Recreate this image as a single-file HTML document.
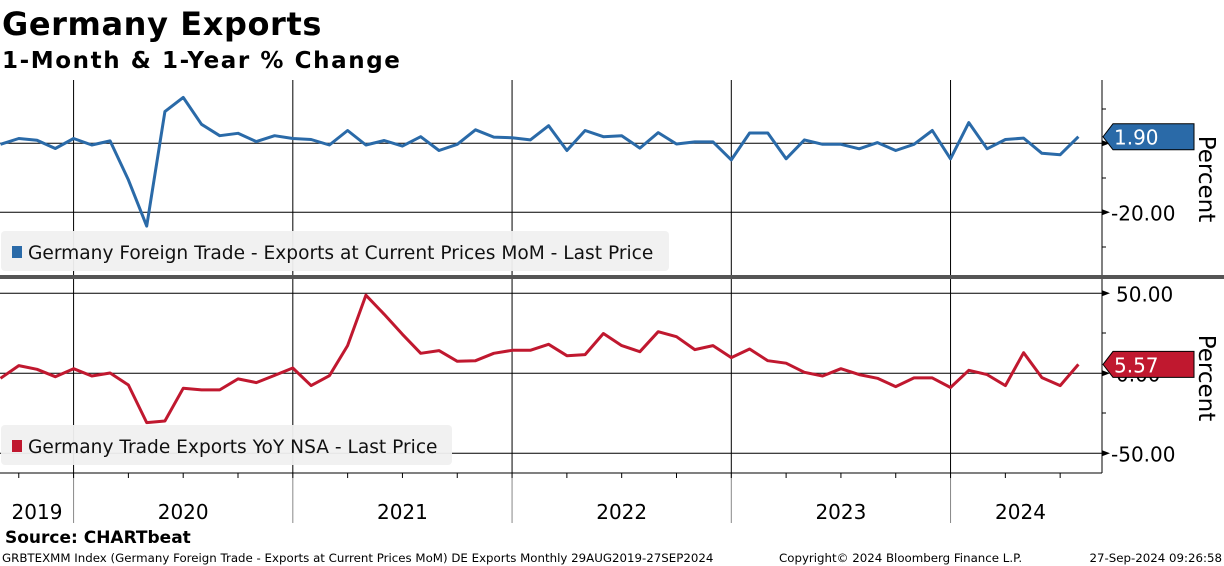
<!DOCTYPE html>
<html><head><meta charset="utf-8"><style>
html,body{margin:0;padding:0;background:#fff;width:1224px;height:566px;overflow:hidden;font-family:"DejaVu Sans","Liberation Sans",sans-serif;}
svg text{font-family:"DejaVu Sans","Liberation Sans",sans-serif;}
</style></head><body>
<svg id="chart" width="1224" height="566" xmlns="http://www.w3.org/2000/svg">
<text x="2" y="35" font-size="32" font-weight="bold" fill="#000" letter-spacing="0.6">Germany Exports</text>
<text x="2" y="68" font-size="23" font-weight="bold" fill="#000" letter-spacing="1.6">1-Month &amp; 1-Year % Change</text>
<g id="grid"></g>
<g id="series"></g>
<rect x="0" y="275" width="1224" height="4" fill="#555"/>
<text x="5" y="543" font-size="17" font-weight="bold">Source: CHARTbeat</text>
<text x="2" y="562" font-size="11.8">GRBTEXMM Index (Germany Foreign Trade - Exports at Current Prices MoM) DE Exports  Monthly 29AUG2019-27SEP2024</text>
<text x="779" y="562" font-size="11.8">Copyright© 2024 Bloomberg Finance L.P.</text>
<text x="1222" y="562" font-size="11.8" text-anchor="end">27-Sep-2024 09:26:58</text>
</svg>
<script>
const momValues=[-0.3,1.4,0.9,-1.5,1.4,-0.5,0.7,-10.6,-24,9.2,13.3,5.5,2.2,2.9,0.5,2.2,1.4,1.1,-0.5,3.7,-0.5,0.8,-0.8,1.9,-2.1,-0.3,3.9,1.8,1.6,1.0,5.1,
-2.1,3.7,1.9,2.2,-1.4,3.1,-0.2,0.4,0.4,-4.8,3.0,3.0,-4.5,1.0,-0.3,-0.3,-1.6,0.2,-2.1,-0.3,3.7,-4.5,6.0,-1.6,1.1,1.5,-2.9,-3.3,1.9];
const yoyValues=[-3.1,4.8,2.5,-2.1,2.9,-1.7,0.2,-7.3,-30.8,-29.8,-9.4,-10.4,-10.4,-3.5,-5.8,-1.3,3.3,-7.7,-1.5,17.3,48.8,36.9,24.4,12.5,14.2,7.5,7.9,12.5,14.4,14.4,18.1,
11.0,11.7,24.9,17.3,13.5,26.0,22.9,14.8,17.3,9.8,15.2,7.9,6.3,0.6,-1.7,2.9,-0.8,-3.1,-8.3,-2.9,-2.9,-8.9,1.9,-0.8,-7.7,12.9,-2.7,-7.7,5.57];
const years=["2019","2020","2021","2022","2023","2024"];
const topTicks=[0,-20];
const bottomTicks=[50,0,-50];
const momLast="1.90";
const yoyLast="5.57";

const NS="http://www.w3.org/2000/svg";
const MONTH=18.27, X0=0.5; // index 0 = Sep 2019
function xOf(i){return X0+i*MONTH;}
function yTop(v){return 143.3-v*3.45;}
function yBot(v){return 373.3-v*1.6;}
function mk(tag,attrs,parent){const e=document.createElementNS(NS,tag);for(const k in attrs)e.setAttribute(k,attrs[k]);parent.appendChild(e);return e;}
const grid=document.getElementById('grid');
const ser=document.getElementById('series');
const AX=1102;
for(let k=1;k<years.length;k++){
  const x=xOf(4+12*(k-1));
  const l=mk('line',{x1:x,y1:80,x2:x,y2:473,stroke:'#000','stroke-width':1},grid);
  
  
  const s=mk('line',{x1:x,y1:473,x2:x,y2:523,stroke:'#888','stroke-width':1},grid);
  
  
}
for(let i=1;i<60;i+=3){
  const t=mk('line',{x1:xOf(i),y1:473,x2:xOf(i),y2:478,stroke:'#000'},grid);
  
  
}
const bounds=[0];for(let k=1;k<years.length;k++)bounds.push(xOf(4+12*(k-1)));bounds.push(xOf(59)+12);
years.forEach((y,k)=>{
  const cx=k==0?37:(bounds[k]+bounds[k+1])/2;
  const t=mk('text',{x:cx,y:519,'font-size':20,'text-anchor':'middle'},grid);
  t.textContent=y;
  
  
});
topTicks.forEach(v=>{
  const y=yTop(v);
  const l=mk('line',{x1:0,y1:y,x2:AX,y2:y,stroke:'#000'},grid);
  
  
  mk('path',{d:`M${AX} ${y-3}L${AX+8} ${y}L${AX} ${y+3}Z`,fill:'#000'},grid);
  if(v!==0){const t=mk('text',{x:AX+9,y:y+8,'font-size':20},grid);t.textContent=v.toFixed(2);
  
  }
});
[109,178,247].forEach(y=>mk('line',{x1:AX,y1:y,x2:AX+4,y2:y,stroke:'#000'},grid));
bottomTicks.forEach(v=>{
  const y=yBot(v);
  const l=mk('line',{x1:0,y1:y,x2:AX,y2:y,stroke:'#000'},grid);
  
  
  mk('path',{d:`M${AX} ${y-3}L${AX+8} ${y}L${AX} ${y+3}Z`,fill:'#000'},grid);
  const t=mk('text',{x:AX+(v<0?9:14),y:y+8,'font-size':20},grid);t.textContent=v.toFixed(2);
  
  
});
[333,413].forEach(y=>mk('line',{x1:AX,y1:y,x2:AX+4,y2:y,stroke:'#000'},grid));
const ax=mk('line',{x1:AX,y1:80,x2:AX,y2:473,stroke:'#000'},grid);


mk('line',{x1:0,y1:473,x2:AX,y2:473,stroke:'#000'},grid);
[[179,'top'],[378,'bottom']].forEach(([cy,n])=>{
  const t=mk('text',{x:1199,y:cy,'font-size':23,transform:`rotate(90 1199 ${cy})`,'text-anchor':'middle'},grid);
  t.textContent='Percent';
  
  
});
function legend(y,w,color,label,name){
  const g=mk('g',{},grid);
  
  
  mk('rect',{x:1,y:y,width:w,height:40,rx:4,fill:'#f0f0f0','fill-opacity':0.95},g);
  mk('rect',{x:12,y:y+15,width:10,height:12,fill:color},g);
  const t=mk('text',{x:28,y:y+28,'font-size':18.6,fill:'#111'},g);t.textContent=label;
}
function line(vals,yf,color,name){
  const d=vals.map((v,i)=>(i?'L':'M')+xOf(i).toFixed(1)+' '+yf(v).toFixed(1)).join('');
  const p=mk('path',{d:d,fill:'none',stroke:color,'stroke-width':3,'stroke-linejoin':'round'},ser);
  
  
}
line(momValues,yTop,'#2a6aa8','mom-line');
line(yoyValues,yBot,'#c0182f','yoy-line');
legend(231,668,'#2a6aa8','Germany Foreign Trade - Exports at Current Prices MoM - Last Price','mom-legend');
legend(425,451,'#c0182f','Germany Trade Exports YoY NSA - Last Price','yoy-legend');
function tag(v,yf,color,label,name){
  const y=yf(v);
  const g=mk('g',{},ser);
  
  
  mk('path',{d:`M${AX+1} ${y}L${AX+11} ${y-13}L1194 ${y-13}L1194 ${y+13}L${AX+11} ${y+13}Z`,fill:color,stroke:'#000','stroke-width':1},g);
  const t=mk('text',{x:AX+12,y:y+8,'font-size':20,fill:'#fff'},g);t.textContent=label;
}
tag(momValues[momValues.length-1],yTop,'#2a6aa8',momLast,'mom-last-price-tag');
tag(yoyValues[yoyValues.length-1],yBot,'#c0182f',yoyLast,'yoy-last-price-tag');
</script>
</body></html>
